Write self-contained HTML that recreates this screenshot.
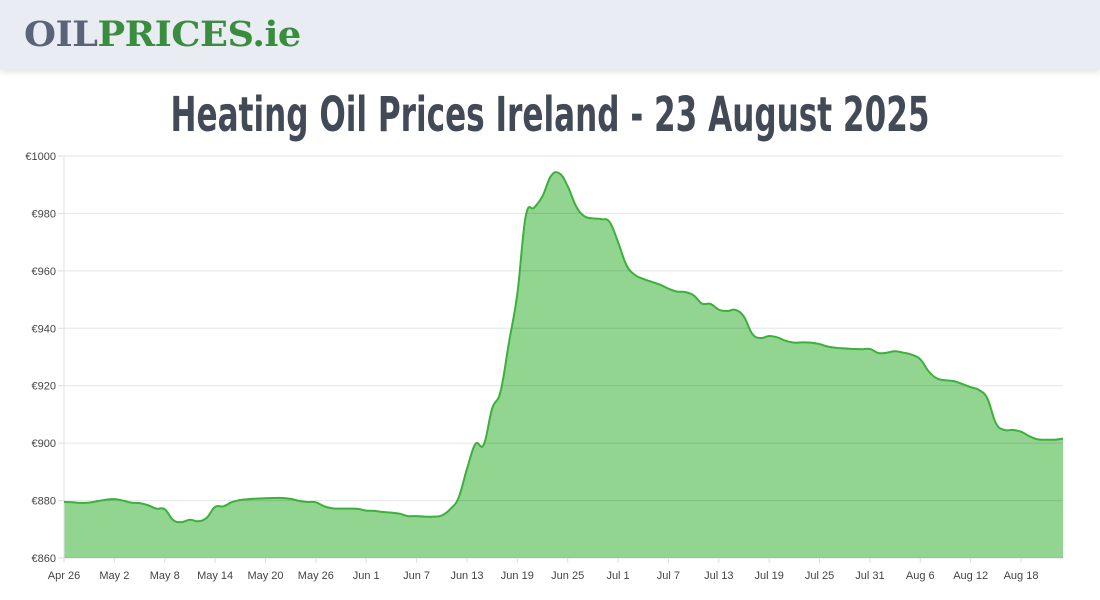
<!DOCTYPE html>
<html><head><meta charset="utf-8"><style>
body{margin:0;width:1100px;height:600px;background:#fff;overflow:hidden;font-family:"Liberation Sans",sans-serif}
#hdr{position:absolute;left:0;top:0;width:1100px;height:70px;background:#e9ecf3;box-shadow:0 2px 6px rgba(0,0,0,.12)}
#logo{position:absolute;left:24px;top:14px;font-family:"DejaVu Serif","Liberation Serif",serif;font-weight:bold;font-size:35px;letter-spacing:-0.5px;color:#5a6378;transform:scaleX(1.05);transform-origin:left}
#logo span{color:#3a8c3e}
#title{position:absolute;left:0;top:87px;width:1100px;text-align:center;font-family:"Liberation Sans Narrow","DejaVu Sans Condensed","Liberation Sans",sans-serif;font-weight:bold;font-size:48px;color:#434a57;transform:scaleX(0.72)}
svg{position:absolute;left:0;top:0}
</style></head><body>
<div id="hdr"><div id="logo">OIL<span>PRICES.ie</span></div></div>
<div id="title">Heating Oil Prices Ireland - 23 August 2025</div>
<svg id="chart" width="1100" height="600"></svg>
<script>
const startDate = "2025-04-26";
const prices = [879.5,879.4,879.2,879.3,879.8,880.3,880.5,880,879.3,879.1,878.4,877.2,877,873.2,872.5,873.3,872.8,874,877.8,878,879.5,880.2,880.5,880.7,880.8,880.9,880.9,880.6,879.9,879.5,879.4,878,877.3,877.2,877.2,877.1,876.5,876.4,876,875.8,875.4,874.6,874.6,874.4,874.4,874.8,877,881,891,899.7,899.5,912,918,935,952,979,982,986,993,994,989.5,982.5,979,978.3,978,977,970,962,958.6,957.2,956.2,955.2,953.8,952.8,952.6,951.5,948.6,948.5,946.5,946,946.4,944,938,936.6,937.3,936.8,935.6,935,935.1,935,934.5,933.6,933.2,933,932.8,932.7,932.8,931.4,931.5,932,931.5,930.8,929.2,925,922.5,921.9,921.6,920.6,919.5,918.5,915.5,907,904.6,904.6,904,902.4,901.3,901.2,901.2,901.6];
const yTicks = [860,880,900,920,940,960,980,1000];
const xTickLabels = ["Apr 26","May 2","May 8","May 14","May 20","May 26","Jun 1","Jun 7","Jun 13","Jun 19","Jun 25","Jul 1","Jul 7","Jul 13","Jul 19","Jul 25","Jul 31","Aug 6","Aug 12","Aug 18"];
const xTickIndex = [0,6,12,18,24,30,36,42,48,54,60,66,72,78,84,90,96,102,108,114];

const L=64,R=1063,T=156,B=558,ymin=860,ymax=1000;
const xs=i=>L+(R-L)*i/(prices.length-1);
const ys=v=>B-(v-ymin)/(ymax-ymin)*(B-T);
const svg=document.getElementById('chart');const NS='http://www.w3.org/2000/svg';
function mk(t,a){const e=document.createElementNS(NS,t);for(const k in a)e.setAttribute(k,a[k]);svg.appendChild(e);return e;}
const pts=prices.map((v,i)=>[xs(i),ys(v)]);
let d=`M${pts[0][0]},${pts[0][1]}`;
for(let i=0;i<pts.length-1;i++){const p0=pts[Math.max(0,i-1)],p1=pts[i],p2=pts[i+1],p3=pts[Math.min(pts.length-1,i+2)];const k=0.2;
d+=` C${p1[0]+(p2[0]-p0[0])*k},${p1[1]+(p2[1]-p0[1])*k} ${p2[0]-(p3[0]-p1[0])*k},${p2[1]-(p3[1]-p1[1])*k} ${p2[0]},${p2[1]}`;}
const area=mk('path',{d:d+` L${R},${B} L${L},${B} Z`,fill:'#91d591'});


yTicks.forEach(v=>{const g=mk('line',{x1:L,x2:R,y1:ys(v),y2:ys(v),stroke:'rgba(0,0,0,0.1)','stroke-width':1});


mk('line',{x1:L-6,x2:L,y1:ys(v),y2:ys(v),stroke:'#ddd'});
const t=mk('text',{x:L-8,y:ys(v)+4,'text-anchor':'end','font-size':11,fill:'#444'});t.textContent='€'+v;

});
mk('line',{x1:L,x2:L,y1:T,y2:B,stroke:'#e0e0e0'});
xTickIndex.forEach((idx,j)=>{const t=mk('text',{x:xs(idx),y:579,'text-anchor':'middle','font-size':11,fill:'#444'});t.textContent=xTickLabels[j];


mk('line',{x1:xs(idx),x2:xs(idx),y1:B,y2:B+5,stroke:'#ddd'});});
const line=mk('path',{d:d,fill:'none',stroke:'#3bb03b','stroke-width':2});


</script>
</body></html>
